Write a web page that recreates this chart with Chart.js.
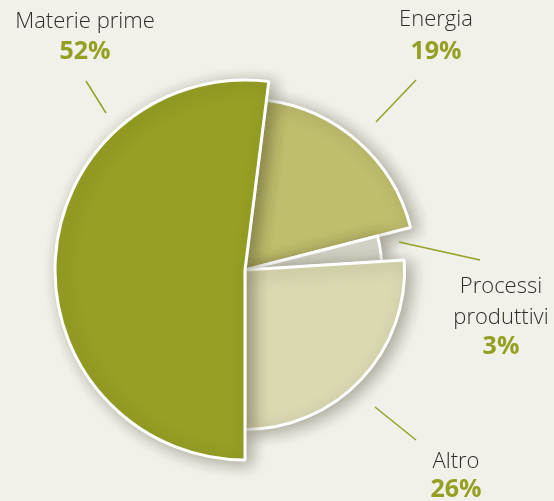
<!DOCTYPE html>
<html>
<head>
<meta charset="utf-8">
<script src="https://cdn.jsdelivr.net/npm/chart.js@4"></script>
<style>
    html, body { margin: 0; padding: 0; background: #f1f0e9; }
    #wrap { position: relative; width: 554px; height: 501px; }
</style>
</head>
<body>
<div id="wrap"><canvas id="pie"></canvas></div>
<script>
// Data (drawing order: Materie prime last so it sits on top)
const categories = ['Energia', 'Processi produttivi', 'Altro', 'Materie prime'];
const shares = [19, 3, 26, 52];
const percentLabels = ['19%', '3%', '26%', '52%'];

// Styling
const sliceColors = ['#bfbe6d', '#dcdcd0', '#dad9b2', '#96a024'];
const radiusScale = [0.9, 0.72, 0.84, 1.0];
const olive = '#95a023';

// Label placement per slice: text lines, centre x, line y's, leader line
const labelLayout = [
    { lines: ['Energia'], x: 436, y: [20], pctY: 52, leader: [416, 80, 376, 122] },
    { lines: ['Processi', 'produttivi'], x: 501, y: [287, 318], pctY: 347, leader: [399, 242, 480, 260] },
    { lines: ['Altro'], x: 456, y: [462], pctY: 490, leader: [375, 407, 416, 440] },
    { lines: ['Materie prime'], x: 85, y: [22], pctY: 52, leader: [86, 81, 106, 113] }
];

/**
 * Give every slice its own outer radius
 */
const sliceRadius = {
    id: 'sliceRadius',
    afterDatasetsUpdate(chart) {
        const meta = chart.getDatasetMeta(0);
        const base = meta.controller.outerRadius;
        meta.data.forEach((arc, i) => {
            arc.outerRadius = base * radiusScale[i];
        });
    },
    beforeDatasetsDraw(chart) {
        const ctx = chart.ctx;
        ctx.save();
        ctx.shadowColor = 'rgba(60, 55, 30, 0.4)';
        ctx.shadowBlur = 16;
        ctx.shadowOffsetX = 5;
        ctx.shadowOffsetY = 3;
    },
    afterDatasetsDraw(chart) {
        chart.ctx.restore();
    }
};

/**
 * Outside labels with leader lines
 */
const outsideLabels = {
    id: 'outsideLabels',
    afterDraw(chart) {
        const ctx = chart.ctx;
        ctx.save();
        ctx.textAlign = 'center';
        ctx.textBaseline = 'middle';
        labelLayout.forEach((lab, i) => {
            ctx.fillStyle = '#2e2e2e';
            ctx.font = '300 22px "Open Sans", sans-serif';
            lab.lines.forEach((t, j) => ctx.fillText(t, lab.x, lab.y[j]));
            ctx.fillStyle = olive;
            ctx.font = 'bold 25px "Open Sans", sans-serif';
            ctx.fillText(percentLabels[i], lab.x, lab.pctY);

            const [x1, y1, x2, y2] = lab.leader;
            ctx.strokeStyle = olive;
            ctx.lineWidth = 1.5;
            ctx.beginPath();
            ctx.moveTo(x1, y1);
            ctx.lineTo(x2, y2);
            ctx.stroke();
        });
        ctx.restore();
    }
};

new Chart(document.getElementById('pie'), {
    type: 'pie',
    data: {
        labels: categories,
        datasets: [{
            data: shares,
            backgroundColor: sliceColors,
            borderColor: '#ffffff',
            borderWidth: 3
        }]
    },
    options: {
        responsive: true,
        maintainAspectRatio: false,
        animation: false,
        rotation: 7.2,
        radius: 190,
        layout: {
            padding: { left: 55, right: 119, top: 80, bottom: 41 }
        },
        plugins: {
            legend: { display: false },
            tooltip: { enabled: false }
        }
    },
    plugins: [sliceRadius, outsideLabels]
});
</script>
</body>
</html>
